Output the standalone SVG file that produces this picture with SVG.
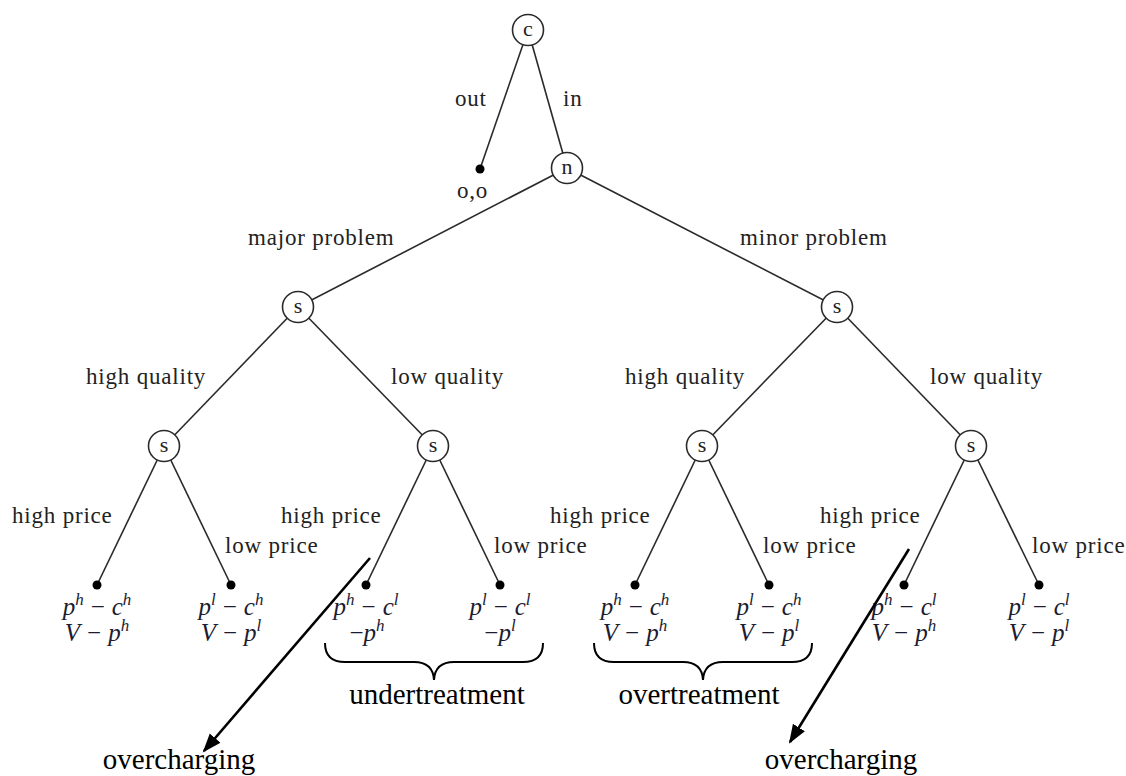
<svg xmlns="http://www.w3.org/2000/svg" width="1126" height="776" viewBox="0 0 1126 776">
<style>
.e{stroke:#2a2a2a;stroke-width:1.6;fill:none}
.nd{fill:#fff;stroke:#2a2a2a;stroke-width:1.6}
.nl{font-family:"Liberation Serif",serif;font-size:22px;fill:#222;text-anchor:middle}
.lf{fill:#000}
.t{font-family:"Liberation Serif",serif;font-size:23px;letter-spacing:0.8px;fill:#222}
.m{font-family:"Liberation Serif",serif;font-size:25px;fill:#1c1c30;text-anchor:middle}
.i{font-style:italic}
.sup{font-style:italic;font-size:17px}
.big{font-family:"Liberation Serif",serif;font-size:29px;fill:#000;text-anchor:middle}
.br{stroke:#000;stroke-width:2;fill:none}
.ar{stroke:#000;stroke-width:2.6;fill:none}
</style>
<defs>
<marker id="ah" markerUnits="userSpaceOnUse" markerWidth="20" markerHeight="16" refX="17" refY="7" orient="auto">
<path d="M0,0 L19,7 L0,14 z" fill="#000"/>
</marker>
</defs>
<rect width="1126" height="776" fill="#fff"/>
<g id="edges">
<line class="e" x1="528" y1="30" x2="480" y2="169"/>
<line class="e" x1="528" y1="30" x2="567" y2="168"/>
<line class="e" x1="567" y1="168" x2="298" y2="307"/>
<line class="e" x1="567" y1="168" x2="837" y2="307"/>
<line class="e" x1="298" y1="307" x2="164" y2="446"/>
<line class="e" x1="298" y1="307" x2="433" y2="446"/>
<line class="e" x1="837" y1="307" x2="702" y2="446"/>
<line class="e" x1="837" y1="307" x2="971" y2="446"/>
<line class="e" x1="164" y1="446" x2="97" y2="585"/>
<line class="e" x1="164" y1="446" x2="231" y2="585"/>
<line class="e" x1="433" y1="446" x2="366" y2="585"/>
<line class="e" x1="433" y1="446" x2="500" y2="585"/>
<line class="e" x1="702" y1="446" x2="635" y2="585"/>
<line class="e" x1="702" y1="446" x2="769" y2="585"/>
<line class="e" x1="971" y1="446" x2="904" y2="585"/>
<line class="e" x1="971" y1="446" x2="1039" y2="585"/>
</g>
<g id="edge-labels">
<text class="t" x="455" y="106">out</text>
<text class="t" x="563" y="106">in</text>
<text class="t" x="248" y="245">major problem</text>
<text class="t" x="740" y="245">minor problem</text>
<text class="t" x="86" y="384">high quality</text>
<text class="t" x="391" y="384">low quality</text>
<text class="t" x="625" y="384">high quality</text>
<text class="t" x="930" y="384">low quality</text>
<text class="t" x="12" y="523">high price</text>
<text class="t" x="281" y="523">high price</text>
<text class="t" x="550" y="523">high price</text>
<text class="t" x="820" y="523">high price</text>
<text class="t" x="225" y="553">low price</text>
<text class="t" x="494" y="553">low price</text>
<text class="t" x="763" y="553">low price</text>
<text class="t" x="1032" y="553">low price</text>
</g>
<g id="node-c"><circle class="nd" cx="528" cy="30" r="15.5"/><text class="nl" x="528" y="36">c</text></g>
<g id="node-n"><circle class="nd" cx="567" cy="168" r="15.5"/><text class="nl" x="567" y="174">n</text></g>
<g id="node-s1"><circle class="nd" cx="298" cy="307" r="15.5"/><text class="nl" x="298" y="313">s</text></g>
<g id="node-s2"><circle class="nd" cx="837" cy="307" r="15.5"/><text class="nl" x="837" y="313">s</text></g>
<g id="node-s11"><circle class="nd" cx="164" cy="446" r="15.5"/><text class="nl" x="164" y="452">s</text></g>
<g id="node-s12"><circle class="nd" cx="433" cy="446" r="15.5"/><text class="nl" x="433" y="452">s</text></g>
<g id="node-s21"><circle class="nd" cx="702" cy="446" r="15.5"/><text class="nl" x="702" y="452">s</text></g>
<g id="node-s22"><circle class="nd" cx="971" cy="446" r="15.5"/><text class="nl" x="971" y="452">s</text></g>
<g id="leaf-out"><circle class="lf" cx="480" cy="169" r="4.5"/><text class="t" x="457" y="198">o,o</text></g>
<g id="leaf-1"><circle class="lf" cx="97" cy="585" r="4.5"/>
<text class="m" x="97" y="615"><tspan class="i">p</tspan><tspan class="sup" dy="-10">h</tspan><tspan dy="10" dx="7">−</tspan><tspan class="i" dx="7">c</tspan><tspan class="sup" dy="-10">h</tspan></text>
<text class="m" x="97" y="641"><tspan class="i">V</tspan><tspan dx="7">−</tspan><tspan class="i" dx="7">p</tspan><tspan class="sup" dy="-10">h</tspan></text></g>
<g id="leaf-2"><circle class="lf" cx="231" cy="585" r="4.5"/>
<text class="m" x="231" y="615"><tspan class="i">p</tspan><tspan class="sup" dy="-10">l</tspan><tspan dy="10" dx="7">−</tspan><tspan class="i" dx="7">c</tspan><tspan class="sup" dy="-10">h</tspan></text>
<text class="m" x="231" y="641"><tspan class="i">V</tspan><tspan dx="7">−</tspan><tspan class="i" dx="7">p</tspan><tspan class="sup" dy="-10">l</tspan></text></g>
<g id="leaf-3"><circle class="lf" cx="366" cy="585" r="4.5"/>
<text class="m" x="366" y="615"><tspan class="i">p</tspan><tspan class="sup" dy="-10">h</tspan><tspan dy="10" dx="7">−</tspan><tspan class="i" dx="7">c</tspan><tspan class="sup" dy="-10">l</tspan></text>
<text class="m" x="367" y="641"><tspan>−</tspan><tspan class="i">p</tspan><tspan class="sup" dy="-10">h</tspan></text></g>
<g id="leaf-4"><circle class="lf" cx="500" cy="585" r="4.5"/>
<text class="m" x="500" y="615"><tspan class="i">p</tspan><tspan class="sup" dy="-10">l</tspan><tspan dy="10" dx="7">−</tspan><tspan class="i" dx="7">c</tspan><tspan class="sup" dy="-10">l</tspan></text>
<text class="m" x="500" y="641"><tspan>−</tspan><tspan class="i">p</tspan><tspan class="sup" dy="-10">l</tspan></text></g>
<g id="leaf-5"><circle class="lf" cx="635" cy="585" r="4.5"/>
<text class="m" x="635" y="615"><tspan class="i">p</tspan><tspan class="sup" dy="-10">h</tspan><tspan dy="10" dx="7">−</tspan><tspan class="i" dx="7">c</tspan><tspan class="sup" dy="-10">h</tspan></text>
<text class="m" x="635" y="641"><tspan class="i">V</tspan><tspan dx="7">−</tspan><tspan class="i" dx="7">p</tspan><tspan class="sup" dy="-10">h</tspan></text></g>
<g id="leaf-6"><circle class="lf" cx="769" cy="585" r="4.5"/>
<text class="m" x="769" y="615"><tspan class="i">p</tspan><tspan class="sup" dy="-10">l</tspan><tspan dy="10" dx="7">−</tspan><tspan class="i" dx="7">c</tspan><tspan class="sup" dy="-10">h</tspan></text>
<text class="m" x="769" y="641"><tspan class="i">V</tspan><tspan dx="7">−</tspan><tspan class="i" dx="7">p</tspan><tspan class="sup" dy="-10">l</tspan></text></g>
<g id="leaf-7"><circle class="lf" cx="904" cy="585" r="4.5"/>
<text class="m" x="904" y="615"><tspan class="i">p</tspan><tspan class="sup" dy="-10">h</tspan><tspan dy="10" dx="7">−</tspan><tspan class="i" dx="7">c</tspan><tspan class="sup" dy="-10">l</tspan></text>
<text class="m" x="904" y="641"><tspan class="i">V</tspan><tspan dx="7">−</tspan><tspan class="i" dx="7">p</tspan><tspan class="sup" dy="-10">h</tspan></text></g>
<g id="leaf-8"><circle class="lf" cx="1039" cy="585" r="4.5"/>
<text class="m" x="1039" y="615"><tspan class="i">p</tspan><tspan class="sup" dy="-10">l</tspan><tspan dy="10" dx="7">−</tspan><tspan class="i" dx="7">c</tspan><tspan class="sup" dy="-10">l</tspan></text>
<text class="m" x="1039" y="641"><tspan class="i">V</tspan><tspan dx="7">−</tspan><tspan class="i" dx="7">p</tspan><tspan class="sup" dy="-10">l</tspan></text></g>
<g id="undertreatment">
<path class="br" d="M325,643 Q325,662 345,662 L414,662 Q433,662 434,680 Q435,662 454,662 L523,662 Q543,662 543,643"/>
<text class="big" x="437" y="704">undertreatment</text>
</g>
<g id="overtreatment">
<path class="br" d="M594,643 Q594,662 614,662 L683,662 Q702,662 703,680 Q704,662 723,662 L792,662 Q812,662 812,643"/>
<text class="big" x="699" y="704">overtreatment</text>
</g>
<g id="arrows">
<line class="ar" x1="370" y1="558" x2="204" y2="751" marker-end="url(#ah)"/>
<line class="ar" x1="909" y1="549" x2="790" y2="742" marker-end="url(#ah)"/>
</g>
<g id="overcharging-labels">
<text class="big" x="179" y="769">overcharging</text>
<text class="big" x="841" y="769">overcharging</text>
</g>
</svg>
